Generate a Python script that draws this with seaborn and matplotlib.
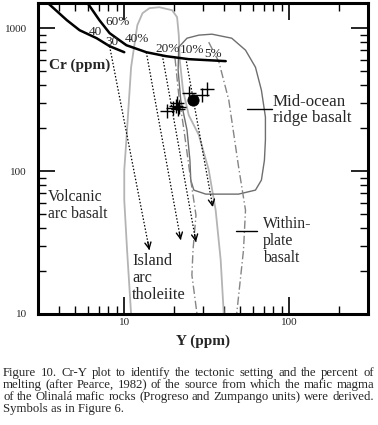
import numpy as np
import pandas as pd
import seaborn as sns
import matplotlib
matplotlib.use("Agg")
from matplotlib import pyplot as plt
from matplotlib.ticker import FixedLocator, NullFormatter, FuncFormatter

# --- data (Y ppm, Cr ppm) ---
cross_y = [18.2, 19.8, 20.6, 20.9, 21.2, 21.4, 24.6, 29.5, 31.6]
cross_cr = [263, 276, 285, 299, 271, 280, 351, 340, 375]
circle_y = [26.1]
circle_cr = [314]

# melting curves
curve_a_y = [3.45, 4.49, 5.36, 6.80, 8.15, 10.0]
curve_a_cr = [1496, 1137, 968, 851, 748, 679]
curve_b_y = [6.0, 7.07, 8.15, 10.3, 13.6, 17.9, 24.6, 41.2]
curve_b_cr = [1496, 1137, 923, 760, 679, 637, 607, 588]

# fractional crystallisation arrows (start -> end)
arrow_y0 = [8.15, 13.6, 17.0, 23.6]
arrow_cr0 = [748, 679, 648, 617]
arrow_y1 = [14.2, 22.0, 27.2, 34.4]
arrow_cr1 = [28.0, 32.9, 31.9, 56.0]

# island arc tholeiite field
iat_y = [11.0, 10.4, 10.0, 10.0, 10.3, 11.0, 12.0, 12.9, 14.2, 16.3, 19.5, 20.9,
         21.4, 21.7, 22.7, 24.6, 28.3, 32.5, 35.8, 38.4, 40.1]
iat_cr = [10, 28.0, 62.7, 101.6, 165, 533, 1049, 1273, 1380, 1402, 1336, 1194,
          894, 597, 368, 246, 179, 102, 53.3, 23.9, 10]

# mid-ocean ridge basalt field
morb_y = [21.4, 24.0, 28.3, 34.0, 44.8, 54.3, 62.4, 67.8, 71.7, 71.7, 70.7, 67.8,
          62.4, 49.3, 31.2, 26.4, 25.3, 25.0, 24.0, 22.0, 21.2, 21.4]
morb_cr = [737, 851, 894, 908, 851, 702, 533, 368, 239, 165, 119, 86.5,
           73.6, 69.0, 69.0, 73.6, 86.5, 119, 194, 314, 509, 737]

# within-plate basalt field (two boundary lines)
wpb_r_y = [32.5, 37.5, 43.0, 49.3, 54.3, 52.8, 48.0]
wpb_r_cr = [798, 578, 314, 107, 53.3, 28.0, 10]
wpb_l_y = [20.3, 21.4, 23.0, 25.3, 27.2, 26.1, 25.7, 27.6]
wpb_l_cr = [617, 340, 194, 86.5, 49.2, 28.0, 18.7, 10]

caption_lines = [
    "Figure 10. Cr-Y plot to identify the tectonic setting and the percent of",
    "melting (after Pearce, 1982) of the source from which the mafic magma",
    "of the Olinalá mafic rocks (Progreso and Zumpango units) were derived.",
    "Symbols as in Figure 6.",
]

sns.set_style("ticks")
plt.rcParams["font.family"] = ["Liberation Serif", "DejaVu Serif"]

W, H = 378, 425
fig = plt.figure(figsize=(W / 100, H / 100), dpi=100)
ax = fig.add_axes([0.1005, 0.2612, 0.873, 0.7317])


def line(xs, ys, **kw):
    df = pd.DataFrame({"x": xs, "y": ys})
    sns.lineplot(data=df, x="x", y="y", sort=False, estimator=None, ax=ax, **kw)


line(iat_y, iat_cr, color="#b4b4b4", lw=1.3)
line(morb_y, morb_cr, color="#6e6e6e", lw=1.0)
line(wpb_r_y, wpb_r_cr, color="#858585", lw=1.0, linestyle=(0, (6, 2, 1, 2)))
line(wpb_l_y, wpb_l_cr, color="#858585", lw=1.0, linestyle=(0, (6, 2, 1, 2)))
line(curve_a_y, curve_a_cr, color="black", lw=1.8)
line(curve_b_y, curve_b_cr, color="black", lw=1.8)

for x0, c0, x1, c1 in zip(arrow_y0, arrow_cr0, arrow_y1, arrow_cr1):
    line([x0, x1], [c0, c1], color="black", lw=0.9, linestyle=(0, (1.2, 1.5)))
    xb = 10 ** (np.log10(x1) - 0.04 * (np.log10(x1) - np.log10(x0)))
    cb = 10 ** (np.log10(c1) - 0.04 * (np.log10(c1) - np.log10(c0)))
    ax.annotate("", xy=(x1, c1), xytext=(xb, cb),
                arrowprops=dict(arrowstyle="->", color="black", lw=1.0,
                                mutation_scale=11, shrinkA=0, shrinkB=0))

pts = pd.DataFrame({"x": cross_y, "y": cross_cr})
sns.scatterplot(data=pts, x="x", y="y", marker="+", s=90, color="black",
                linewidth=1.0, ax=ax, zorder=5)
circ = pd.DataFrame({"x": circle_y, "y": circle_cr})
sns.scatterplot(data=circ, x="x", y="y", marker="o", s=65, color="black",
                edgecolor="black", ax=ax, zorder=6)

ax.set_xscale("log")
ax.set_yscale("log")
ax.set_xlim(3, 300)
ax.set_ylim(10, 1500)

ax.xaxis.set_major_locator(FixedLocator([10, 100]))
ax.xaxis.set_minor_locator(FixedLocator([4, 5, 6, 7, 8, 9, 20, 30, 40, 50, 60, 70, 80, 90, 200]))
ax.yaxis.set_major_locator(FixedLocator([10, 100, 1000]))
ax.yaxis.set_minor_locator(FixedLocator([20, 30, 40, 50, 60, 70, 80, 90,
                                         200, 300, 400, 500, 600, 700, 800, 900]))
fmt = FuncFormatter(lambda v, p: f"{v:g}")
ax.xaxis.set_major_formatter(fmt)
ax.yaxis.set_major_formatter(fmt)
ax.xaxis.set_minor_formatter(NullFormatter())
ax.yaxis.set_minor_formatter(NullFormatter())

ax.tick_params(which="both", direction="in", top=True, right=True, color="black")
ax.tick_params(which="major", length=12, width=1.2, labelsize=8)
ax.tick_params(which="minor", length=6, width=1.0)
ax.tick_params(axis="y", which="major", pad=8)
ax.tick_params(axis="x", which="major", pad=3)
for sp in ax.spines.values():
    sp.set_linewidth(2.2)
    sp.set_color("black")

ax.set_ylabel("")
ax.set_xlabel("Y (ppm)", fontsize=11, fontweight="bold", labelpad=5)

T = ax.transAxes
ax.text(0.0333, 0.8006, "Cr (ppm)", transform=T, fontsize=11, fontweight="bold",
        ha="left", va="center")
pct = [("60%", 0.2424, 0.9389), ("40", 0.1727, 0.9068), ("30", 0.2242, 0.8746),
       ("40%", 0.30, 0.8842), ("20%", 0.394, 0.852), ("10%", 0.4667, 0.849),
       ("5%", 0.530, 0.836)]
for s, xx, yy in pct:
    ax.text(xx, yy, s, transform=T, fontsize=9.5, ha="center", va="center")

lab_kw = dict(transform=T, ha="left", va="center", linespacing=1.05)
ax.text(0.0303, 0.3489, "Volcanic\narc basalt", fontsize=11.3, **lab_kw)
ax.text(0.2848, 0.1158, "Island\narc\ntholeiite", fontsize=11.8, **lab_kw)
ax.text(0.712, 0.656, "Mid-ocean\nridge basalt", fontsize=12.2, **lab_kw)
ax.text(0.682, 0.2347, "Within-\nplate\nbasalt", fontsize=11.3, **lab_kw)
ax.plot([0.633, 0.709], [0.659, 0.659], transform=T, color="black", lw=1.0)
ax.plot([0.60, 0.6636], [0.2669, 0.2669], transform=T, color="black", lw=1.0)

# justified caption below the plot
cap_size = 9.2
baselines = [376, 388, 400, 412]
x_left, x_right = 3, 374
fig.canvas.draw()
rend = fig.canvas.get_renderer()
for i, ln in enumerate(caption_lines):
    yy = (H - baselines[i]) / H
    if i == len(caption_lines) - 1:
        fig.text(x_left / W, yy, ln, fontsize=cap_size, ha="left", va="baseline")
        continue
    words = ln.split(" ")
    ts = [fig.text(0, yy, w, fontsize=cap_size, ha="left", va="baseline") for w in words]
    widths = [t.get_window_extent(rend).width for t in ts]
    gap = (x_right - x_left - sum(widths)) / (len(words) - 1)
    xp = x_left
    for t, w in zip(ts, widths):
        t.set_x(xp / W)
        xp += w + gap

fig.savefig("out.png", dpi=100)
